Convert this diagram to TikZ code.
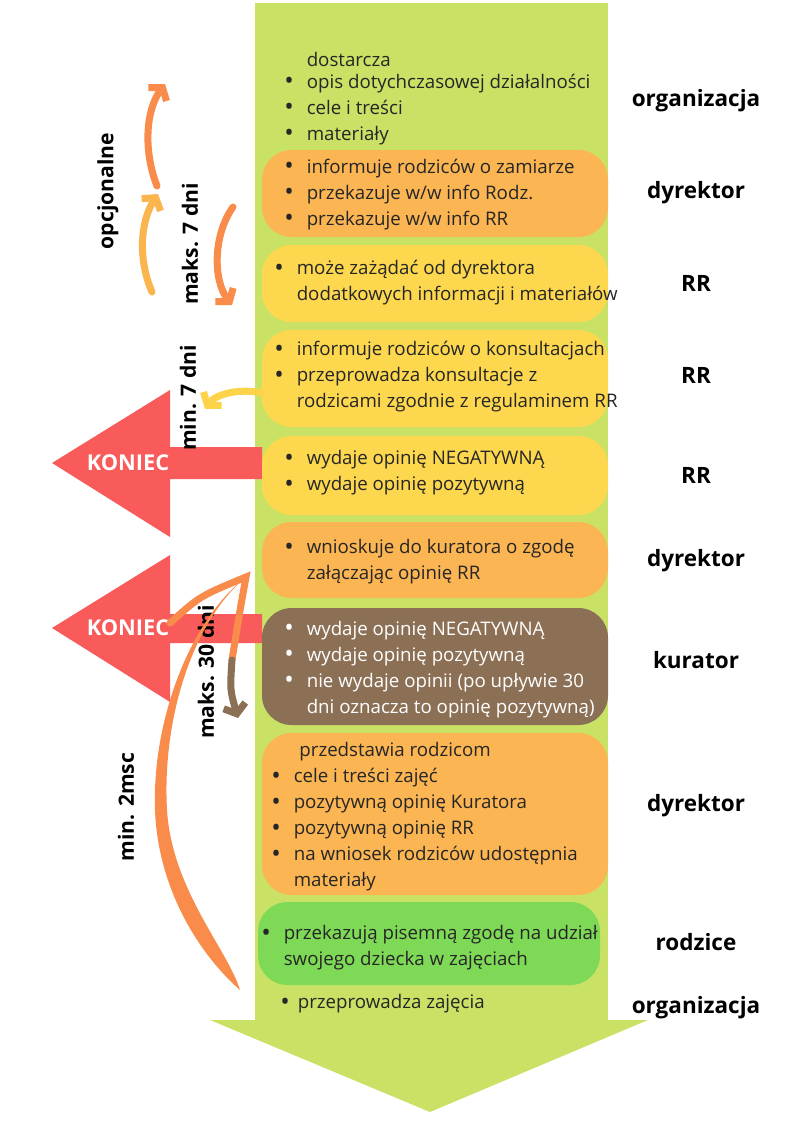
\documentclass[tikz,border=0pt]{standalone}
\usepackage{fontspec}
\setmainfont{Open Sans}
\usetikzlibrary{arrows.meta,positioning}

\definecolor{tlo}{HTML}{C9E265}
\definecolor{pomar}{HTML}{FBB552}
\definecolor{zolty}{HTML}{FDD84F}
\definecolor{braz}{HTML}{8C7055}
\definecolor{ziel}{HTML}{7ED957}
\definecolor{czerw}{HTML}{F95A5A}
\definecolor{strz}{HTML}{F98C4A}
\definecolor{strzjas}{HTML}{FBB54F}
\definecolor{strzzol}{HTML}{FDD34A}

\newcommand\px{0.025cm}
\newcommand\pkt{\makebox[16pt][l]{\raisebox{-0.9pt}{\fontsize{18}{18}\selectfont•}}}
\newcommand\wci{\hspace*{16pt}}

\tikzset{
  pole/.style={rounded corners=21pt, minimum width=346*\px, inner sep=0pt},
  tekst/.style={anchor=west, align=left, inner sep=0pt,
    font=\fontsize{13.3}{18.5}\selectfont, text=black!85},
  rola/.style={anchor=base, font=\fontsize{16}{18}\selectfont\bfseries},
  czas/.style={rotate=90, font=\fontsize{15}{17}\selectfont\bfseries},
  grot/.style={line width=5pt, line cap=round,
    -{Straight Barb[length=6pt,width=16pt]}},
}

\begin{document}
\begin{tikzpicture}[x=\px, y=-\px]
\useasboundingbox (0,0) rectangle (800,1132);

% duza strzalka w tle
\fill[tlo] (255,3) rectangle (608,1020);
\fill[tlo] (210,1020) -- (648,1020) -- (430,1112) -- cycle;

% KONIEC
\fill[czerw] (52,463) -- (170,390) -- (170,447) -- (262,447) -- (262,479)
  -- (170,479) -- (170,537) -- cycle;
\fill[czerw] (52,628) -- (170,555) -- (170,614) -- (262,614) -- (262,643)
  -- (170,643) -- (170,702) -- cycle;
\node[text=white, font=\fontsize{15.5}{17}\selectfont\bfseries] (koniec1) at (128,463) {KONIEC};
\node[text=white, font=\fontsize{15.5}{17}\selectfont\bfseries] (koniec2) at (128,628) {KONIEC};

% pola
\node[pole, fill=pomar, minimum height=87*\px] (dyr1) at (435,193.5) {};
\node[pole, fill=zolty, minimum height=77*\px] (rr1) at (435,283.5) {};
\node[pole, fill=zolty, minimum height=97*\px] (rr2) at (435,378.5) {};
\node[pole, fill=zolty, minimum height=79*\px] (rr3) at (435,475.5) {};
\node[pole, fill=pomar, minimum height=76*\px] (dyr2) at (435,560) {};
\node[pole, fill=braz, minimum height=117*\px] (kur) at (435,666.5) {};
\node[pole, fill=pomar, minimum height=162*\px] (dyr3) at (435,814) {};
\node[pole, fill=ziel, minimum height=83*\px, minimum width=342*\px] (rodz) at (429,943.5) {};

% teksty
\node[tekst] (t0) at (284,98.5) {\wci dostarcza\\[-3pt] \pkt opis dotychczasowej działalności\\
  \pkt cele i treści\\ \pkt materiały};
\node[tekst] (t1) at (284,194.5) {\pkt informuje rodziców o zamiarze\\
  \pkt przekazuje w/w info Rodz.\\ \pkt przekazuje w/w info RR};
\node[tekst] (t2) at (274,283) {\pkt może zażądać od dyrektora\\
  \wci dodatkowych informacji i materiałów};
\node[tekst] (t3) at (274,377) {\pkt informuje rodziców o konsultacjach\\
  \pkt przeprowadza konsultacje z\\ \wci rodzicami zgodnie z regulaminem RR};
\node[tekst] (t4) at (284,473) {\pkt wydaje opinię NEGATYWNĄ\\ \pkt wydaje opinię pozytywną};
\node[tekst] (t5) at (284,562) {\pkt wnioskuje do kuratora o zgodę\\ \wci załączając opinię RR};
\node[tekst, text=white] (t6) at (284,669.5) {\pkt wydaje opinię NEGATYWNĄ\\
  \pkt wydaje opinię pozytywną\\ \pkt nie wydaje opinii (po upływie 30\\
  \wci dni oznacza to opinię pozytywną)};
\node[tekst] (t7) at (271,817) {\hspace*{20pt}przedstawia rodzicom\\
  \pkt cele i treści zajęć\\ \pkt pozytywną opinię Kuratora\\ \pkt pozytywną opinię RR\\
  \pkt na wniosek rodziców udostępnia\\ \wci materiały};
\node[tekst] (t8) at (261,948) {\pkt przekazują pisemną zgodę na udział\\
  \wci swojego dziecka w zajęciach};
\node[tekst] (t9) at (280,1004) {\makebox[12.5pt][l]{\raisebox{-0.9pt}{\fontsize{18}{18}\selectfont•}}przeprowadza zajęcia};

% role
\node[rola] (r0) at (696,106) {organizacja};
\node[rola] (r1) at (696,198) {dyrektor};
\node[rola] (r2) at (696,291) {RR};
\node[rola] (r3) at (696,383) {RR};
\node[rola] (r4) at (696,483) {RR};
\node[rola] (r5) at (696,566) {dyrektor};
\node[rola] (r6) at (696,668) {kurator};
\node[rola] (r7) at (696,811) {dyrektor};
\node[rola] (r8) at (696,950) {rodzice};
\node[rola] (r9) at (696,1013) {organizacja};

% terminy
\node[czas] (opc) at (108,191) {opcjonalne};
\node[czas] (m7a) at (190,244) {maks. 7 dni};
\node[czas] (m7b) at (188,398) {min. 7 dni};
\node[czas] (m30) at (206,672) {maks. 30 dni};
\node[czas] (m2) at (126,807) {min. 2msc};

% strzalki
\coordinate (a1) at (157,186); \coordinate (a1k) at (165,84);
\coordinate (a2) at (152,292); \coordinate (a2k) at (158,194);
\coordinate (a3) at (233,207); \coordinate (a3k) at (232,305);
\coordinate (a4) at (262,393); \coordinate (a4k) at (205,409);
\draw[grot, strz] (a1) .. controls (143,150) and (146,110) .. (a1k);
\draw[grot, strzjas] (a2) .. controls (138,260) and (140,222) .. (a2k);
\draw[grot, strz] (a3) .. controls (213,235) and (213,280) .. (a3k);
\draw[grot, strzzol] (a4) .. controls (240,388) and (216,394) .. (a4k);

% dlugi luk i 30 dni
\coordinate (dol) at (240,990); \coordinate (szczyt) at (246,577);
\coordinate (k1) at (170,623); \coordinate (k2) at (232,660); \coordinate (k3) at (238,718);
\fill[strz] (dol) .. controls (200,955) and (158,890) .. (155,810)
  .. controls (152,720) and (190,620) .. (szczyt)
  .. controls (192,622) and (162,720) .. (167,810)
  .. controls (172,890) and (228,950) .. (dol) -- cycle;
\draw[strz, line width=5pt, line cap=round] (k1) .. controls (200,596) .. (szczyt)
  .. controls (240,610) .. (k2);
\draw[grot, braz] (k2) .. controls (230,690) .. (k3);
\end{tikzpicture}
\end{document}
